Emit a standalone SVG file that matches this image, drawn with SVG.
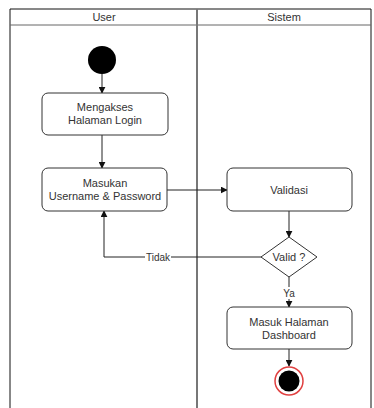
<svg xmlns="http://www.w3.org/2000/svg" width="374" height="408" viewBox="0 0 374 408">
<style>
text{font-family:"Liberation Sans",Arial,sans-serif;font-size:11px;fill:#333;text-anchor:middle;dominant-baseline:central}
.box{fill:#fff;stroke:#333;stroke-width:1}
.edge{fill:none;stroke:#222;stroke-width:1}
.lbl{font-size:10px}
</style>
<defs>
<marker id="arr" viewBox="0 0 10 10" refX="9" refY="5" markerWidth="7" markerHeight="7" orient="auto" markerUnits="userSpaceOnUse">
<path d="M0,0 L10,5 L0,10 z" fill="#111"/>
</marker>
</defs>
<rect width="374" height="408" fill="#fff"/>
<g id="lanes">
<path d="M10,408 V9 H371 V408" fill="none" stroke="#111" stroke-width="1"/>
<line x1="10" y1="25" x2="371" y2="25" stroke="#666" stroke-width="1"/>
<line x1="197" y1="9" x2="197" y2="408" stroke="#777" stroke-width="2"/>
<text x="104" y="17">User</text>
<text x="284" y="17">Sistem</text>
</g>
<g id="connectors">
<path class="edge" d="M102,74 V93" marker-end="url(#arr)"/>
<path class="edge" d="M102,135 V168" marker-end="url(#arr)"/>
<path class="edge" d="M167,190 H227" marker-end="url(#arr)"/>
<path class="edge" d="M289,211 V237" marker-end="url(#arr)"/>
<path class="edge" d="M262,257 H104 V211" marker-end="url(#arr)"/>
<path class="edge" d="M289,277 V307" marker-end="url(#arr)"/>
<path class="edge" d="M289,349 V366" marker-end="url(#arr)"/>
<rect x="145" y="251" width="26" height="12" fill="#fff"/>
<text class="lbl" x="158" y="257">Tidak</text>
<rect x="282" y="287" width="14" height="12" fill="#fff"/>
<text class="lbl" x="289" y="293">Ya</text>
</g>
<g id="start">
<circle cx="102" cy="60" r="14" fill="#000"/>
</g>
<g id="akses">
<rect class="box" x="42" y="93" width="126" height="42" rx="6"/>
<text x="105" y="107">Mengakses</text>
<text x="105" y="120">Halaman Login</text>
</g>
<g id="masukan">
<rect class="box" x="42" y="168" width="125" height="43" rx="6"/>
<text x="105" y="183">Masukan</text>
<text x="105" y="196">Username &amp; Password</text>
</g>
<g id="validasi">
<rect class="box" x="227" y="168" width="125" height="43" rx="6"/>
<text x="289" y="190">Validasi</text>
</g>
<g id="valid">
<path class="box" d="M289,237 L317,257 L289,277 L261,257 Z"/>
<text x="289" y="257">Valid ?</text>
</g>
<g id="dashboard">
<rect class="box" x="227" y="307" width="125" height="42" rx="6"/>
<text x="289" y="322">Masuk Halaman</text>
<text x="289" y="335">Dashboard</text>
</g>
<g id="end">
<circle cx="289" cy="381" r="14" fill="#fff" stroke="#e04040" stroke-width="1.5"/>
<circle cx="289" cy="381" r="10.5" fill="#000"/>
</g>
</svg>
